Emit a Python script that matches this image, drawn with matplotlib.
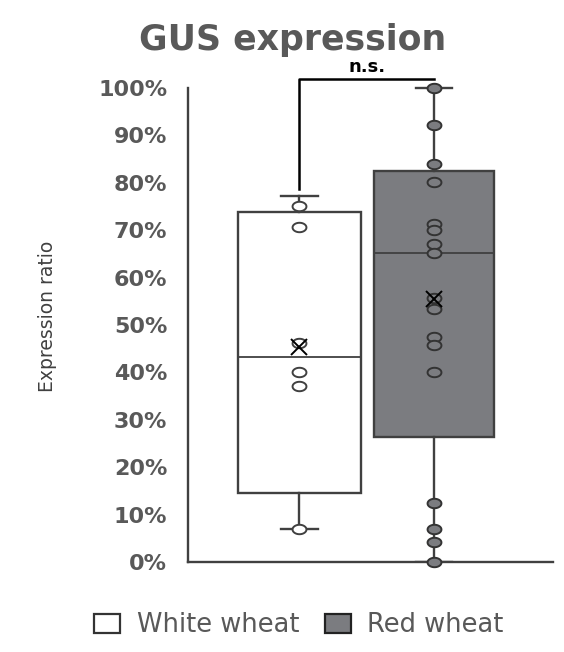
import numpy as np
import matplotlib
matplotlib.use('Agg')
import matplotlib.pyplot as plt
from matplotlib.path import Path

# chart values
groups = ['White wheat', 'Red wheat']
q1 = [0.145, 0.263]
median = [0.433, 0.653]
q3 = [0.739, 0.825]
whisker_low = [0.069, 0.0]
whisker_high = [0.772, 1.0]
means = [0.453, 0.555]
white_points = [0.751, 0.707, 0.463, 0.400, 0.371, 0.069]
red_points = [1.00, 0.922, 0.840, 0.802, 0.714, 0.700, 0.670, 0.653, 0.558,
              0.534, 0.475, 0.458, 0.400, 0.125, 0.069, 0.042, 0.0]
y_ticks = [0.0, 0.1, 0.2, 0.3, 0.4, 0.5, 0.6, 0.7, 0.8, 0.9, 1.0]
y_tick_labels = ['0%', '10%', '20%', '30%', '40%', '50%', '60%', '70%', '80%', '90%', '100%']

gray_text = '#595959'
edge = '#404040'
red_fill = '#7b7c80'

# slightly flattened circle marker, as in the original
t = np.linspace(0, 2 * np.pi, 41)
ellipse = Path(np.column_stack([np.cos(t), 0.68 * np.sin(t)]), closed=True)

fig = plt.figure(figsize=(5.64, 6.52), dpi=100)
ax = fig.add_axes([0.3333, 0.138, 0.647, 0.7633])

stats = []
for i in range(len(groups)):
    stats.append({'label': groups[i], 'q1': q1[i], 'med': median[i], 'q3': q3[i],
                  'whislo': whisker_low[i], 'whishi': whisker_high[i], 'mean': means[i]})

positions = [1, 2]
bp = ax.bxp(stats, positions=positions, widths=[0.92, 0.89], patch_artist=True,
            showmeans=True, showfliers=False, capwidths=0.27,
            boxprops=dict(edgecolor=edge, linewidth=1.7),
            medianprops=dict(color=edge, linewidth=1.3),
            whiskerprops=dict(color=edge, linewidth=1.7),
            capprops=dict(color=edge, linewidth=1.7),
            meanprops=dict(marker='x', markeredgecolor='black', markersize=12,
                           markeredgewidth=1.4))
bp['boxes'][0].set_facecolor('white')
bp['boxes'][1].set_facecolor(red_fill)
for m in bp['means']:
    m.set_zorder(5)

ax.plot([positions[0]] * len(white_points), white_points, linestyle='none',
        marker=ellipse, markersize=10, markerfacecolor='white',
        markeredgecolor=edge, markeredgewidth=1.4, zorder=4, clip_on=False)
ax.plot([positions[1]] * len(red_points), red_points, linestyle='none',
        marker=ellipse, markersize=10, markerfacecolor=red_fill,
        markeredgecolor='#333333', markeredgewidth=1.4, zorder=4, clip_on=False)

# significance bracket
ax.plot([1, 1, 2], [0.787, 1.019, 1.019], color='black', linewidth=1.8,
        clip_on=False, zorder=6)
ax.text(1.5, 1.033, 'n.s.', ha='center', va='baseline', fontsize=13,
        fontweight='bold', color='black')

ax.set_xlim(0.171, 2.885)
ax.set_ylim(0, 1.05)
ax.set_xticks([])
ax.set_yticks(y_ticks)
ax.set_yticklabels(y_tick_labels, fontsize=16, fontweight='bold', color=gray_text)
ax.tick_params(axis='y', length=0, pad=15)
for side in ['top', 'right']:
    ax.spines[side].set_visible(False)
for side in ['left', 'bottom']:
    ax.spines[side].set_color(edge)
    ax.spines[side].set_linewidth(1.7)
ax.spines['left'].set_bounds(0, 1)

fig.text(0.518, 0.924, 'GUS expression', ha='center', va='baseline',
         fontsize=25, fontweight='bold', color=gray_text)
fig.text(0.085, 0.514, 'Expression ratio', ha='center', va='center',
         rotation=90, fontsize=13.5, color='#404040')

handles = [plt.Rectangle((0, 0), 1, 1, facecolor='white', edgecolor='#333333', linewidth=1.6),
           plt.Rectangle((0, 0), 1, 1, facecolor=red_fill, edgecolor='#222222', linewidth=1.6)]
fig.legend(handles, groups, loc='center', bbox_to_anchor=(0.530, 0.041), ncol=2,
           frameon=False, fontsize=18.5, labelcolor=gray_text, handlelength=1.0,
           handleheight=0.8, handletextpad=0.65, columnspacing=1.0)

fig.savefig('out.png', dpi=100)
